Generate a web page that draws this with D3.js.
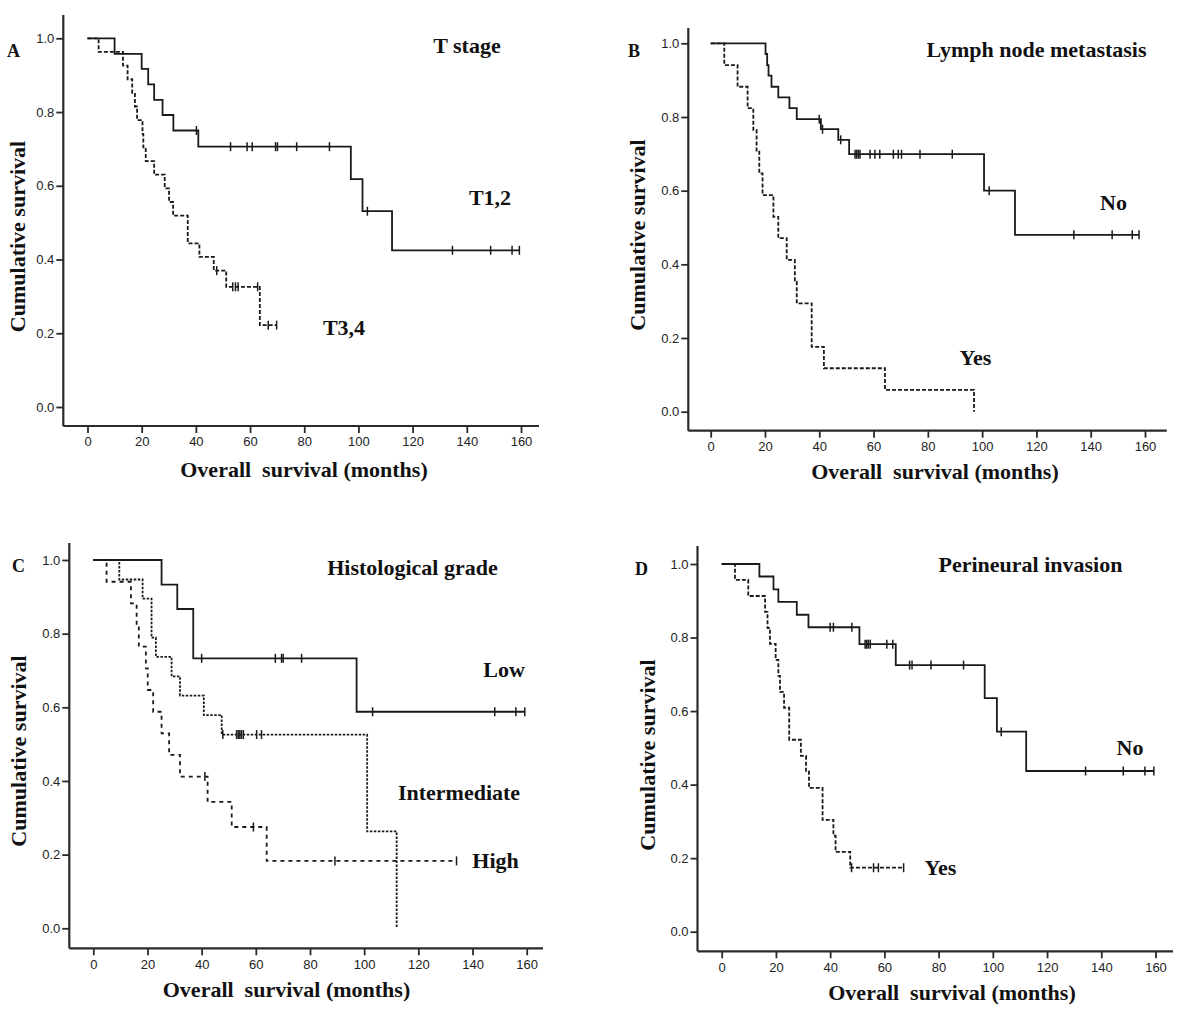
<!DOCTYPE html>
<html><head><meta charset="utf-8">
<script src="https://cdn.jsdelivr.net/npm/d3@7"></script>
<style>body{margin:0;background:#fff} svg{display:block}</style>
</head><body><svg id="chart" width="1200" height="1033"></svg>
<script>
// ---------------- DATA ----------------
const xTicks = [0, 20, 40, 60, 80, 100, 120, 140, 160];
const yTicks = [0.0, 0.2, 0.4, 0.6, 0.8, 1.0];
const panelLetters = ["A", "B", "C", "D"];
const panelTitles = ["T stage", "Lymph node metastasis", "Histological grade", "Perineural invasion"];
const xAxisTitle = "Overall  survival (months)";
const yAxisTitle = "Cumulative survival";

// Panel A: T stage
const A_T12_times  = [10, 20, 22.4, 24.6, 27.7, 31.7, 40.9, 97.2, 101.5, 112.4];
const A_T12_surv   = [0.958, 0.917, 0.875, 0.833, 0.792, 0.750, 0.706, 0.618, 0.531, 0.425];
const A_T12_censor = [40.2, 52.8, 58.9, 60.8, 69.4, 70.1, 77.2, 89.3, 103.3, 134.7, 148.8, 156.7, 159.4];
const A_T34_times  = [4.1, 13.1, 14.8, 16.5, 17.5, 18.3, 20.3, 20.6, 21.5, 24.6, 28.5, 30.1, 31.6, 37, 41.3, 46.6, 51.2, 63.6];
const A_T34_surv   = [0.963, 0.926, 0.889, 0.852, 0.815, 0.778, 0.741, 0.704, 0.667, 0.630, 0.593, 0.556, 0.519, 0.444, 0.407, 0.370, 0.326, 0.222];
const A_T34_censor = [47.7, 53.6, 54.6, 55.6, 62.8, 66.7, 69.8];

// Panel B: Lymph node metastasis
const B_No_times   = [20.2, 20.8, 21.3, 22.4, 24.9, 29, 31.7, 40.6, 47, 51, 100.7, 112.1];
const B_No_surv    = [0.971, 0.941, 0.912, 0.882, 0.853, 0.824, 0.794, 0.767, 0.738, 0.699, 0.600, 0.480];
const B_No_censor  = [40.0, 41.2, 47.9, 53.2, 53.8, 54.4, 55.0, 58.7, 60.5, 62.3, 67.3, 69.1, 70.3, 77.1, 89.0, 102.6, 133.8, 147.9, 155.3, 157.8];
const B_Yes_times  = [5, 9.9, 13.6, 15.7, 16.9, 17.9, 19.1, 23.1, 24.9, 28, 31, 31.7, 37.2, 41.7, 64.2, 97];
const B_Yes_surv   = [0.941, 0.882, 0.824, 0.765, 0.706, 0.647, 0.588, 0.529, 0.471, 0.412, 0.353, 0.294, 0.176, 0.118, 0.059, 0.0];
const B_Yes_censor = [];

// Panel C: Histological grade
const C_Low_times  = [25.2, 31, 36.9, 97.2];
const C_Low_surv   = [0.933, 0.867, 0.733, 0.588];
const C_Low_censor = [40.0, 67.2, 69.5, 70.1, 76.9, 103.1, 148.2, 156.0, 159.3];
const C_Int_times  = [9.6, 18.2, 21.5, 23.1, 28.9, 32, 40.8, 47.4, 101.1, 112];
const C_Int_surv   = [0.947, 0.895, 0.789, 0.737, 0.684, 0.632, 0.579, 0.526, 0.263, 0.0];
const C_Int_censor = [47.8, 52.9, 53.5, 54.1, 54.7, 55.4, 60.3, 62.1];
const C_High_times = [4.9, 13.9, 16, 16.8, 19.4, 20.1, 22.1, 25.2, 28, 32, 42.2, 51.1, 64];
const C_High_surv  = [0.941, 0.882, 0.824, 0.765, 0.706, 0.647, 0.588, 0.529, 0.471, 0.412, 0.343, 0.275, 0.183];
const C_High_censor= [41.2, 59.1, 89.2, 134.1];

// Panel D: Perineural invasion
const D_No_times   = [13.9, 19.1, 20.9, 27.7, 32, 50.8, 64.2, 97, 101.5, 112.3];
const D_No_surv    = [0.966, 0.931, 0.897, 0.862, 0.828, 0.782, 0.725, 0.635, 0.544, 0.437];
const D_No_censor  = [40.0, 41.2, 48.0, 52.9, 53.5, 54.1, 54.8, 60.9, 63.1, 69.3, 70.2, 77.2, 89.2, 103.1, 134.2, 148.1, 156.1, 159.4];
const D_Yes_times  = [4.9, 9.8, 16, 16.9, 17.8, 19.9, 20.9, 21.5, 23, 24.9, 29.2, 31.1, 32.2, 37.2, 41.2, 42, 47.4];
const D_Yes_surv   = [0.957, 0.913, 0.870, 0.826, 0.783, 0.739, 0.696, 0.652, 0.609, 0.522, 0.478, 0.435, 0.391, 0.304, 0.261, 0.217, 0.174];
const D_Yes_censor = [47.9, 56.0, 57.8, 67.1];

const curveLabels = [["T1,2", "T3,4"], ["No", "Yes"], ["Low", "Intermediate", "High"], ["No", "Yes"]];

// ---------------- LAYOUT ----------------
const layouts = [
  {axisX:63.3, axisY:426, x0:87.5, x1:521, y0:407, y1:38.3, right:539, top:15,
   letter:[7,57], title:[467,53], xlab:[304,477], ylab:[17,236.5],
   labels:[[490,205],[344,335]],
   series:[{t:A_T12_times,s:A_T12_surv,c:A_T12_censor,dash:null},
           {t:A_T34_times,s:A_T34_surv,c:A_T34_censor,dash:"4,2"}]},
  {axisX:688.3, axisY:430.7, x0:710.7, x1:1145, y0:411.7, y1:43.3, right:1166.7, top:28,
   letter:[628,57], title:[1036.5,57], xlab:[935,479], ylab:[637.5,235],
   labels:[[1113.5,210],[975.5,365]],
   series:[{t:B_No_times,s:B_No_surv,c:B_No_censor,dash:null},
           {t:B_Yes_times,s:B_Yes_surv,c:B_Yes_censor,dash:"4,2"}]},
  {axisX:69.3, axisY:948.3, x0:93.3, x1:526.7, y0:928.3, y1:560, right:543, top:543,
   letter:[12,572], title:[412.5,575], xlab:[286.5,996.5], ylab:[18,751],
   labels:[[504,677],[459,800],[495.5,868]],
   series:[{t:C_Low_times,s:C_Low_surv,c:C_Low_censor,dash:null},
           {t:C_Int_times,s:C_Int_surv,c:C_Int_censor,dash:"2.5,1.5"},
           {t:C_High_times,s:C_High_surv,c:C_High_censor,dash:"4,4"}]},
  {axisX:697.5, axisY:951.3, x0:721.7, x1:1155.5, y0:931.7, y1:564, right:1173, top:546,
   letter:[635,575], title:[1030.5,572], xlab:[952,1000], ylab:[647,755],
   labels:[[1130,755],[940.5,875]],
   series:[{t:D_No_times,s:D_No_surv,c:D_No_censor,dash:null},
           {t:D_Yes_times,s:D_Yes_surv,c:D_Yes_censor,dash:"4,2"}]}
];

const serif = "'Liberation Serif','Times New Roman',serif";
const sans = "'Liberation Sans',Arial,sans-serif";
const ink = "#1a1a1a";
const svg = d3.select("#chart");

layouts.forEach((L, i) => {
  const g = svg.append("g");
  const x = d3.scaleLinear().domain([0, 160]).range([L.x0, L.x1]);
  const y = d3.scaleLinear().domain([0, 1]).range([L.y0, L.y1]);

  // axis lines
  g.append("line").attr("x1", L.axisX).attr("x2", L.axisX).attr("y1", L.top).attr("y2", L.axisY)
    .attr("stroke", "#2a2a2a").attr("stroke-width", 2.2);
  g.append("line").attr("x1", L.axisX).attr("x2", L.right).attr("y1", L.axisY).attr("y2", L.axisY)
    .attr("stroke", "#2a2a2a").attr("stroke-width", 2.2);

  // x axis ticks
  const xa = g.append("g").attr("transform", `translate(0,${L.axisY})`)
    .call(d3.axisBottom(x).tickValues(xTicks).tickSize(7).tickSizeOuter(0).tickPadding(4).tickFormat(d3.format("d")));
  xa.select(".domain").remove();
  xa.selectAll(".tick line").attr("stroke", "#2a2a2a").attr("stroke-width", 1.8);
  xa.selectAll(".tick text").attr("font-family", sans).attr("font-size", 13).attr("fill", "#222");

  // y axis ticks
  const ya = g.append("g").attr("transform", `translate(${L.axisX},0)`)
    .call(d3.axisLeft(y).tickValues(yTicks).tickSize(7).tickSizeOuter(0).tickPadding(2).tickFormat(d3.format(".1f")));
  ya.select(".domain").remove();
  ya.selectAll(".tick line").attr("stroke", "#2a2a2a").attr("stroke-width", 1.8);
  ya.selectAll(".tick text").attr("font-family", sans).attr("font-size", 13).attr("fill", "#222");

  // curves
  const line = d3.line().x(d => x(d[0])).y(d => y(d[1])).curve(d3.curveStepAfter);
  L.series.forEach(S => {
    const pts = [[0, 1]];
    S.t.forEach((t, k) => pts.push([t, S.s[k]]));
    const lastT = Math.max(S.t[S.t.length - 1], S.c.length ? d3.max(S.c) : 0);
    pts.push([lastT, S.s[S.s.length - 1]]);
    g.append("path").attr("d", line(pts)).attr("fill", "none")
      .attr("stroke", ink).attr("stroke-width", 1.8)
      .attr("stroke-dasharray", S.dash);
    const survAt = c => {
      const k = d3.bisectRight(S.t, c) - 1;
      return k < 0 ? 1 : S.s[k];
    };
    g.selectAll(null).data(S.c).enter().append("line")
      .attr("x1", d => x(d)).attr("x2", d => x(d))
      .attr("y1", d => y(survAt(d)) - 4.5).attr("y2", d => y(survAt(d)) + 4.5)
      .attr("stroke", ink).attr("stroke-width", 1.5);
  });

  // texts
  g.append("text").attr("x", L.letter[0]).attr("y", L.letter[1]).text(panelLetters[i])
    .attr("font-family", serif).attr("font-weight", "bold").attr("font-size", 18).attr("fill", "#111");
  g.append("text").attr("x", L.title[0]).attr("y", L.title[1]).text(panelTitles[i])
    .attr("text-anchor", "middle").attr("font-family", serif).attr("font-weight", "bold")
    .attr("font-size", 22).attr("fill", "#111");
  g.append("text").attr("x", L.xlab[0]).attr("y", L.xlab[1]).text(xAxisTitle)
    .attr("text-anchor", "middle").attr("font-family", serif).attr("font-weight", "bold")
    .attr("font-size", 22).attr("fill", "#111").style("white-space", "pre");
  g.append("text").attr("transform", `translate(${L.ylab[0]},${L.ylab[1]}) rotate(-90)`)
    .attr("dy", "0.35em").text(yAxisTitle)
    .attr("text-anchor", "middle").attr("font-family", serif).attr("font-weight", "bold")
    .attr("font-size", 22).attr("fill", "#111");
  curveLabels[i].forEach((lab, k) => {
    g.append("text").attr("x", L.labels[k][0]).attr("y", L.labels[k][1]).text(lab)
      .attr("text-anchor", "middle").attr("font-family", serif).attr("font-weight", "bold")
      .attr("font-size", 22).attr("fill", "#111");
  });
});
</script>
</body></html>
